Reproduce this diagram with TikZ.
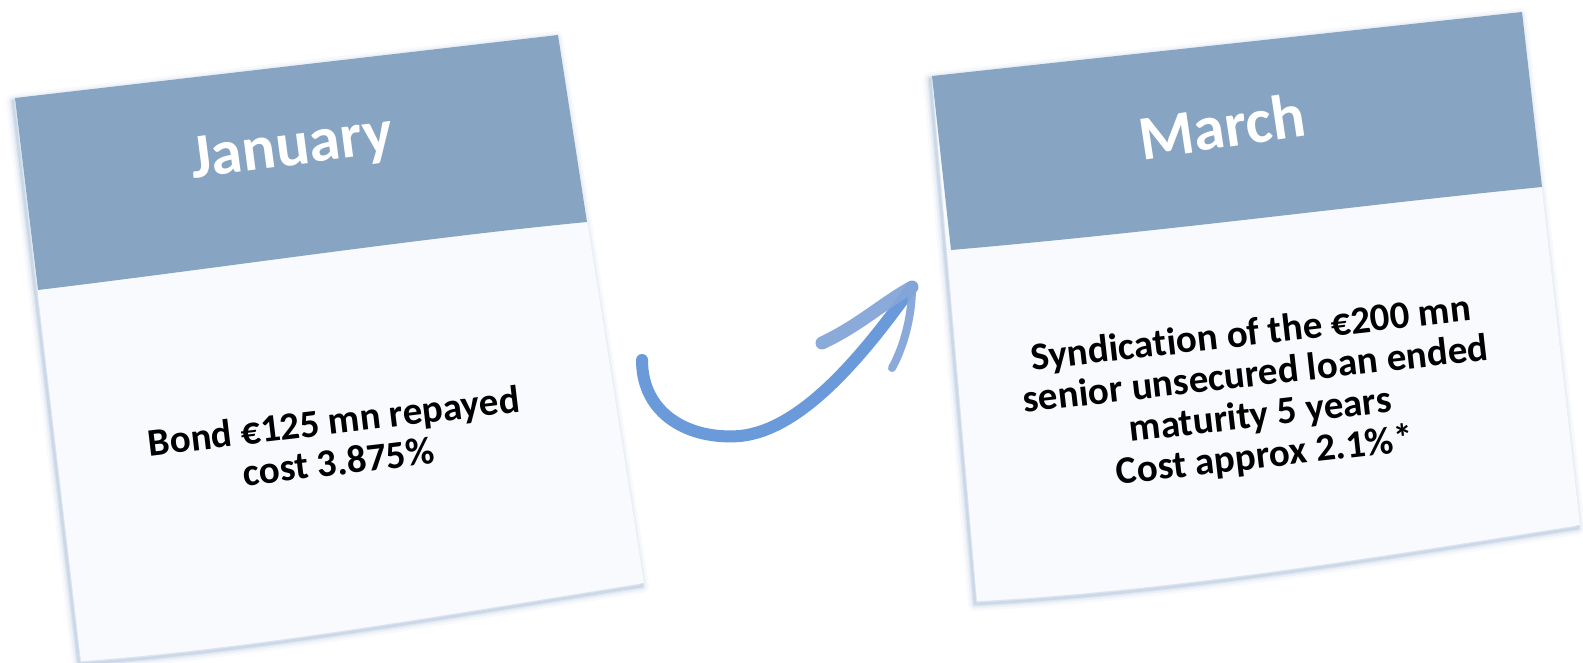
\documentclass[tikz,border=0pt]{standalone}
\usepackage{fontspec}
\setmainfont[RawFeature=-liga]{Carlito}
\definecolor{headcol}{HTML}{87A4C2}
\definecolor{bodycol}{HTML}{F8FAFD}
\definecolor{shadcol}{HTML}{B7C8DE}
\definecolor{arrowcol}{HTML}{5B8FD6}
\definecolor{armcol}{HTML}{84A6D8}
\tikzset{
  cardbody/.style={fill=bodycol},
  cardhead/.style={fill=headcol},
  cardshadow/.style={draw=shadcol, line join=round},
  titletext/.style={text=white, font=\bfseries\fontsize{63}{70}\selectfont, inner sep=0pt},
  bodytext/.style={text=black, font=\bfseries\fontsize{39}{41}\selectfont, align=center, inner sep=0pt},
  arrowline/.style={draw=arrowcol, line cap=round, line join=round, opacity=0.9},
}
\begin{document}
\begin{tikzpicture}[x=1pt,y=-1pt]
\useasboundingbox (0,0) rectangle (1583,663);
% ---------- left card ----------
\def\leftbody{(15,98) -- (558,35) -- (644,583) .. controls (460,612) and (260,648) .. (81,661) -- cycle}
\foreach \w/\o in {14/0.10,9/0.18,5/0.30,2.5/0.45}{
  \draw[cardshadow, line width=\w pt, opacity=\o, shift={(-2,3)}] \leftbody;
}
\path[cardbody] \leftbody;
\path[cardhead] (15,98) -- (558,35) -- (587,222) .. controls (420,238) and (220,268) .. (38,290) -- cycle;
\node[titletext, rotate=7.5] (jan) at (292,150) {January};
\node[bodytext, rotate=6.8] (jantext) at (336,441) {Bond €125 mn repayed\\cost 3.875\%};
% ---------- right card ----------
\def\rightbody{(932,76) -- (1522,12) -- (1580,525) .. controls (1380,556) and (1180,590) .. (977,601) -- cycle}
\foreach \w/\o in {14/0.10,9/0.18,5/0.30,2.5/0.45}{
  \draw[cardshadow, line width=\w pt, opacity=\o, shift={(-2,3)}] \rightbody;
}
\path[cardbody] \rightbody;
\path[cardhead] (932,76) -- (1522,12) -- (1542,187) .. controls (1360,205) and (1160,232) .. (951,250) -- cycle;
\node[titletext, rotate=8.5] (mar) at (1222,126) {March};
\node[bodytext, rotate=6.5] (martext) at (1258,396) {Syndication of the €200 mn\\senior unsecured loan ended\\maturity 5 years\\Cost approx 2.1\%*};
% ---------- arrow ----------
\coordinate (astart) at (642,360);
\coordinate (alow) at (740,436);
\coordinate (atip) at (912,287);
\coordinate (arm1) at (822,343);
\coordinate (arm2) at (892,368);
\draw[arrowline, line width=12pt] (astart) .. controls (642,415) and (690,440) .. (alow)
  .. controls (800,430) and (860,360) .. (atip);
\draw[draw=armcol, line cap=round, line width=13pt, opacity=0.95] (atip) .. controls (880,305) and (860,325) .. (arm1);
\draw[draw=armcol, line cap=round, line width=8pt, opacity=0.95] (atip) .. controls (912,320) and (902,350) .. (arm2);
\end{tikzpicture}
\end{document}
